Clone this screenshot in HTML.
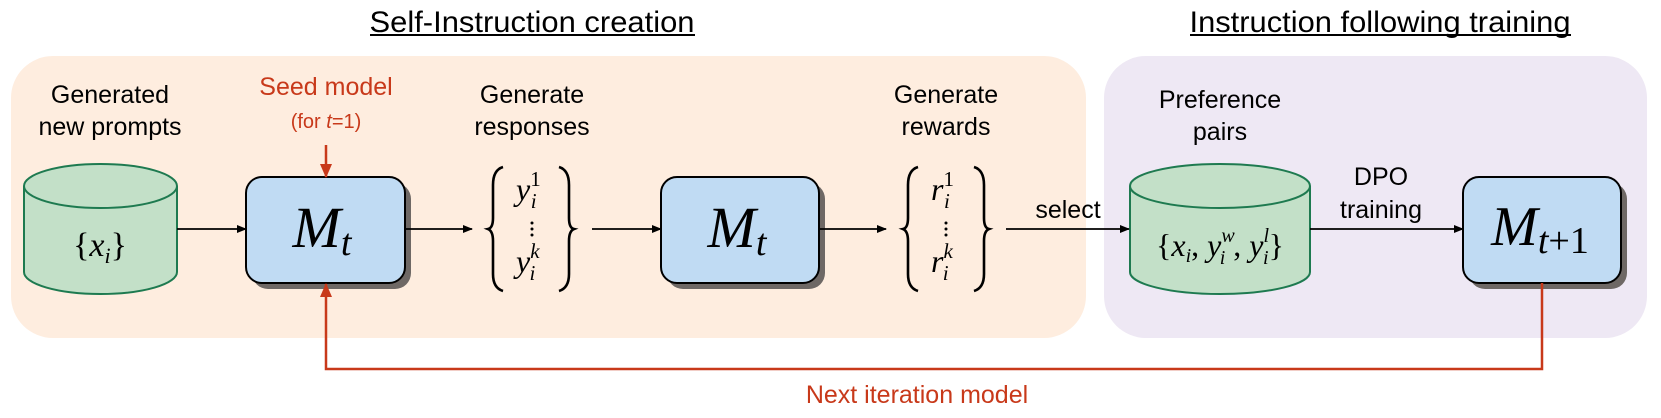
<!DOCTYPE html>
<html><head><meta charset="utf-8"><style>
html,body{margin:0;padding:0;background:#fff;}
svg{display:block;}
text{font-family:"Liberation Sans",sans-serif;}
.m{font-family:"Liberation Serif",serif;font-style:italic;}
.r{font-family:"Liberation Serif",serif;}
</style></head><body>
<svg width="1661" height="418" viewBox="0 0 1661 418" xmlns="http://www.w3.org/2000/svg">
<defs>
<marker id="ak" markerWidth="10" markerHeight="8" refX="9" refY="4" orient="auto" markerUnits="userSpaceOnUse"><path d="M0,0 L10,4 L0,8 z" fill="#000"/></marker>
<marker id="ar" markerWidth="14" markerHeight="14" refX="13" refY="7" orient="auto" markerUnits="userSpaceOnUse"><path d="M0,1 L14,7 L0,13 z" fill="#c8391a"/></marker>
</defs>
<rect x="11" y="56" width="1075" height="282" rx="42" fill="#feeddf"/>
<rect x="1104" y="56" width="543" height="282" rx="42" fill="#eee8f4"/>
<text x="532" y="32" font-size="30" text-anchor="middle" textLength="325" lengthAdjust="spacingAndGlyphs">Self-Instruction creation</text>
<line x1="370" y1="35" x2="695" y2="35" stroke="#000" stroke-width="2"/>
<text x="1380" y="32" font-size="30" text-anchor="middle" textLength="381" lengthAdjust="spacingAndGlyphs">Instruction following training</text>
<line x1="1190" y1="35" x2="1571" y2="35" stroke="#000" stroke-width="2"/>
<g font-size="25" text-anchor="middle">
<text x="110" y="103">Generated</text><text x="110" y="135">new prompts</text>
<text x="532" y="103">Generate</text><text x="532" y="135">responses</text>
<text x="946" y="103">Generate</text><text x="946" y="135">rewards</text>
<text x="1220" y="108">Preference</text><text x="1220" y="140">pairs</text>
<text x="1068" y="218">select</text>
<text x="1381" y="185">DPO</text><text x="1381" y="218">training</text>
<text x="326" y="95" fill="#c8391a">Seed model</text>
<text x="917" y="403" fill="#c8391a">Next iteration model</text>
</g>
<text x="326" y="128" font-size="20" text-anchor="middle" fill="#c8391a">(for <tspan font-style="italic">t</tspan>=1)</text>
<g fill="#c3e0c8" stroke="#1e7a50" stroke-width="2">
<path d="M24,186 L24,272 A76.5,22 0 0 0 177,272 L177,186"/>
<ellipse cx="100.5" cy="186" rx="76.5" ry="22"/>
<path d="M1130,186 L1130,272 A90,22 0 0 0 1310,272 L1310,186"/>
<ellipse cx="1220" cy="186" rx="90" ry="22"/>
</g>
<text x="100" y="256" font-size="34" text-anchor="middle" class="r">{<tspan class="m">x</tspan><tspan class="m" font-size="22" dy="7">i</tspan><tspan dy="-7">}</tspan></text>
<text x="1220" y="256" font-size="32" text-anchor="middle" class="r">{<tspan class="m">x</tspan><tspan class="m" font-size="20" dy="6">i</tspan><tspan dy="-6">, </tspan><tspan class="m">y</tspan><tspan class="m" font-size="20" dy="-14">w</tspan><tspan class="m" font-size="20" dx="-15" dy="22">i</tspan><tspan dy="-8" dx="8">, </tspan><tspan class="m">y</tspan><tspan class="m" font-size="20" dy="-14">l</tspan><tspan class="m" font-size="20" dx="-6" dy="22">i</tspan><tspan dy="-8">}</tspan></text>
<rect x="252" y="183" width="159" height="106" rx="16" fill="#6e6865"/>
<rect x="246" y="177" width="159" height="106" rx="16" fill="#c0dbf3" stroke="#000" stroke-width="2"/>
<rect x="667" y="183" width="158" height="106" rx="16" fill="#6e6865"/>
<rect x="661" y="177" width="158" height="106" rx="16" fill="#c0dbf3" stroke="#000" stroke-width="2"/>
<rect x="1469" y="183" width="158" height="106" rx="16" fill="#6e6865"/>
<rect x="1463" y="177" width="158" height="106" rx="16" fill="#c0dbf3" stroke="#000" stroke-width="2"/>
<text x="322" y="247" font-size="58" text-anchor="middle" class="m">M<tspan font-size="38" dy="8">t</tspan></text>
<text x="737" y="247" font-size="58" text-anchor="middle" class="m">M<tspan font-size="38" dy="8">t</tspan></text>
<text x="1540" y="245" font-size="56" text-anchor="middle" class="m">M<tspan font-size="38" dy="8">t</tspan><tspan font-size="38" font-style="normal">+1</tspan></text>
<g fill="none" stroke="#000" stroke-width="2.6">
<path d="M503,167 Q493,170 493,185 L493,218 Q493,228 488,229 Q493,231 493,241 L493,274 Q493,288 503,291"/>
<path d="M559,167 Q569,170 569,185 L569,218 Q569,228 574,229 Q569,231 569,241 L569,274 Q569,288 559,291"/>
<path d="M918,167 Q908,170 908,185 L908,218 Q908,228 903,229 Q908,231 908,241 L908,274 Q908,288 918,291"/>
<path d="M974,167 Q984,170 984,185 L984,218 Q984,228 989,229 Q984,231 984,241 L984,274 Q984,288 974,291"/>
</g>
<g>
<text x="516" y="200" font-size="32" class="m">y<tspan font-size="21" dy="-14" font-style="normal">1</tspan><tspan font-size="21" dx="-10" dy="22">i</tspan></text>
<text x="516" y="272" font-size="32" class="m">y<tspan font-size="21" dy="-14">k</tspan><tspan font-size="21" dx="-10" dy="22">i</tspan></text>
<text x="931" y="200" font-size="32" class="m">r<tspan font-size="21" dy="-14" font-style="normal">1</tspan><tspan font-size="21" dx="-10" dy="22">i</tspan></text>
<text x="931" y="272" font-size="32" class="m">r<tspan font-size="21" dy="-14">k</tspan><tspan font-size="21" dx="-10" dy="22">i</tspan></text>
</g>
<g fill="#000"><circle cx="532" cy="223" r="1.5"/><circle cx="532" cy="229" r="1.5"/><circle cx="532" cy="235" r="1.5"/>
<circle cx="946" cy="223" r="1.5"/><circle cx="946" cy="229" r="1.5"/><circle cx="946" cy="235" r="1.5"/></g>
<g stroke="#000" stroke-width="1.8" marker-end="url(#ak)">
<line x1="177" y1="229" x2="246" y2="229"/>
<line x1="405" y1="229" x2="472" y2="229"/>
<line x1="592" y1="229" x2="661" y2="229"/>
<line x1="819" y1="229" x2="886" y2="229"/>
<line x1="1006" y1="229" x2="1129" y2="229"/>
<line x1="1310" y1="229" x2="1463" y2="229"/>
</g>
<line x1="326" y1="145" x2="326" y2="177" stroke="#c8391a" stroke-width="2.5" marker-end="url(#ar)"/>
<path d="M1542,283 L1542,369 L326,369 L326,284" fill="none" stroke="#c8391a" stroke-width="2.5" marker-end="url(#ar)"/>
</svg>
</body></html>
